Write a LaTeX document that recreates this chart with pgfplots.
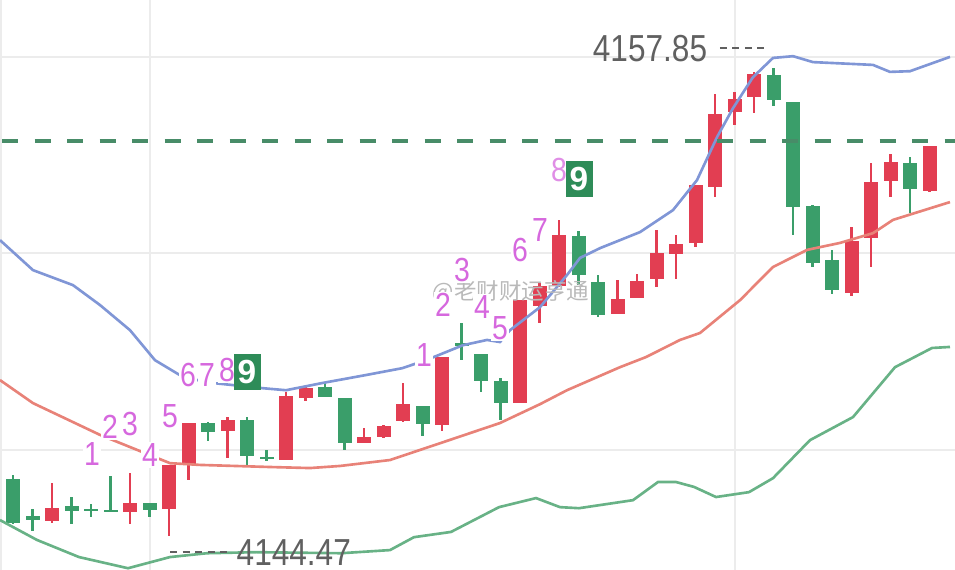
\documentclass[border=0pt]{standalone}
\usepackage{pgfplots}
\pgfplotsset{compat=1.18}
\usepackage{pgfplotstable}
\usepackage{graphicx}
\usepackage{fontspec}
\setmainfont{Liberation Sans}
\newfontfamily\cjk{Noto Sans CJK SC}

\definecolor{cred}{RGB}{226,62,82}
\definecolor{cgreen}{RGB}{58,158,106}
\definecolor{cblue}{RGB}{128,150,214}
\definecolor{csalmon}{RGB}{232,130,120}
\definecolor{clgreen}{RGB}{104,178,134}
\definecolor{cdash}{RGB}{72,140,104}
\definecolor{cpurple}{RGB}{214,104,222}
\definecolor{cbox}{RGB}{46,140,88}
\definecolor{gridc}{RGB}{236,236,236}
\definecolor{ctext}{RGB}{96,96,96}

% up candles (red): index open high low close
\pgfplotstableread{
i o h l c
2 4144.87 4145.96 4144.84 4145.24
6 4145.16 4146.25 4144.81 4145.39
8 4145.22 4146.48 4144.47 4146.48
9 4146.48 4147.68 4146.05 4147.68
11 4147.45 4147.85 4146.68 4147.77
14 4146.65 4148.57 4146.65 4148.48
15 4148.42 4148.71 4148.31 4148.68
18 4147.11 4147.56 4147.11 4147.28
19 4147.28 4147.62 4147.25 4147.59
20 4147.74 4148.83 4147.71 4148.22
22 4147.62 4149.57 4147.45 4149.57
26 4148.25 4151.20 4148.25 4151.20
27 4151.03 4151.69 4150.57 4151.63
28 4151.60 4153.50 4151.60 4153.07
31 4150.83 4151.80 4150.83 4151.26
32 4151.26 4151.95 4151.26 4151.75
33 4151.83 4153.21 4151.58 4152.55
34 4152.52 4153.07 4151.83 4152.81
35 4152.84 4154.50 4152.72 4154.50
36 4154.47 4157.10 4154.15 4156.56
37 4156.59 4157.16 4156.22 4156.96
38 4157.02 4157.74 4156.56 4157.68
43 4151.43 4153.32 4151.32 4152.92
44 4152.98 4155.13 4152.15 4154.58
45 4154.61 4155.39 4154.15 4155.16
47 4154.33 4155.62 4154.30 4155.62
}\up

% down candles (green)
\pgfplotstableread{
i o h l c
0 4146.10 4146.19 4144.79 4144.84
1 4145.04 4145.24 4144.61 4144.90
3 4145.30 4145.56 4144.79 4145.16
4 4145.24 4145.36 4144.99 4145.19
5 4145.19 4146.16 4145.13 4145.16
7 4145.39 4145.39 4145.01 4145.19
10 4147.68 4147.71 4147.16 4147.42
12 4147.77 4147.85 4146.48 4146.73
13 4146.70 4146.91 4146.59 4146.65
16 4148.71 4148.83 4148.42 4148.42
17 4148.40 4148.40 4146.91 4147.11
21 4148.17 4148.17 4147.31 4147.65
23 4149.97 4150.54 4149.48 4149.91
24 4149.66 4149.66 4148.57 4148.88
25 4148.88 4148.97 4147.77 4148.25
29 4153.04 4153.18 4151.63 4151.95
30 4151.72 4151.95 4150.72 4150.77
39 4157.65 4157.85 4156.76 4156.93
40 4156.88 4156.88 4153.07 4153.87
41 4153.92 4153.92 4152.15 4152.29
42 4152.35 4152.64 4151.38 4151.49
46 4155.13 4155.30 4153.72 4154.38
}\down

\newcommand{\pl}[1]{\scalebox{0.85}[1]{#1}}

\begin{document}
\begin{tikzpicture}
\begin{axis}[
  name=ax,
  width=9.55cm, height=5.7cm, scale only axis,
  xmin=-0.667, xmax=48.308, ymin=4143.47, ymax=4159.80,
  axis line style={draw=none},
  xtick={-0.615,7.026,37.026}, ytick={4146.91,4152.55,4158.17},
  xticklabels={}, yticklabels={}, major tick length=0pt,
  grid=major, grid style={color=gridc, line width=0.45pt},
  clip=true,
  wick/.style={draw=none, mark=none, error bars/.cd, y dir=both, y explicit, error mark=none,
     error bar style={line width=0.025cm, draw=#1, solid}},
  body/.style={draw=none, mark=none, error bars/.cd, y dir=both, y explicit, error mark=none,
     error bar style={line width=0.14cm, draw=#1, solid}},
]
% wicks
\addplot[wick=cred] table[x=i, y expr=(\thisrow{h}+\thisrow{l})/2, y error expr=(\thisrow{h}-\thisrow{l})/2] {\up};
\addplot[wick=cgreen] table[x=i, y expr=(\thisrow{h}+\thisrow{l})/2, y error expr=(\thisrow{h}-\thisrow{l})/2] {\down};
% bodies
\addplot[body=cred] table[x=i, y expr=(\thisrow{o}+\thisrow{c})/2, y error expr={max(abs(\thisrow{o}-\thisrow{c})/2,0.03)}] {\up};
\addplot[body=cgreen] table[x=i, y expr=(\thisrow{o}+\thisrow{c})/2, y error expr={max(abs(\thisrow{o}-\thisrow{c})/2,0.03)}] {\down};

% upper band
\addplot[cblue, line width=0.75pt, mark=none] coordinates {
(-0.667,4152.92) (1.026,4152.06) (3.077,4151.63) (4.462,4151.06) (6.0,4150.34) (7.282,4149.48) (8.564,4149.05) (9.846,4148.85) (12.769,4148.68) (14.0,4148.62) (15.897,4148.83) (18.051,4149.05) (19.949,4149.25) (21.179,4149.48) (23.077,4149.91) (24.308,4150.06) (24.974,4150.00) (25.487,4150.34) (27.026,4151.00) (28.410,4151.92) (29.077,4152.41) (30.103,4152.69) (32.154,4153.15) (33.846,4153.78) (35.077,4154.64) (36.103,4155.87) (36.923,4156.70) (37.949,4157.59) (38.974,4158.14) (40.0,4158.19) (41.026,4158.02) (44.103,4157.94) (44.974,4157.74) (46.0,4157.76) (48.051,4158.17)};
% middle band
\addplot[csalmon, line width=0.75pt, mark=none] coordinates {
(-0.667,4148.91) (1.026,4148.25) (4.462,4147.34) (7.026,4146.76) (8.051,4146.53) (9.590,4146.48) (13.179,4146.42) (15.231,4146.39) (16.769,4146.45) (19.333,4146.62) (22.051,4147.13) (24.974,4147.68) (27.026,4148.22) (28.410,4148.62) (31.128,4149.28) (32.462,4149.57) (34.205,4150.06) (35.231,4150.26) (37.282,4151.20) (38.974,4152.15) (40.718,4152.64) (42.410,4152.84) (44.103,4153.12) (45.128,4153.50) (48.051,4154.01)};
% lower band
\addplot[clgreen, line width=0.75pt, mark=none] coordinates {
(-0.667,4144.90) (1.231,4144.33) (3.385,4143.84) (5.897,4143.52) (8.051,4143.84) (9.949,4143.95) (12.462,4143.98) (16.821,4143.95) (19.333,4144.04) (20.564,4144.41) (22.462,4144.56) (24.923,4145.27) (26.821,4145.53) (28.051,4145.27) (29.026,4145.24) (31.795,4145.47) (33.077,4145.99) (34.0,4145.99) (34.923,4145.85) (36.051,4145.56) (37.744,4145.70) (38.974,4146.10) (40.872,4147.19) (43.077,4147.85) (45.231,4149.28) (47.128,4149.83) (48.051,4149.86)};

% green dashed level
\addplot[cdash, line width=1pt, dash pattern=on 0.16cm off 0.165cm, mark=none] coordinates {(-0.56,4155.76) (48.308,4155.76)};

% max / min markers
\draw[ctext, line width=0.7pt, dash pattern=on 0.07cm off 0.055cm] (axis cs:36.256,4158.42) -- (axis cs:38.718,4158.42);
\draw[ctext, line width=0.7pt, dash pattern=on 0.07cm off 0.055cm] (axis cs:8.051,4143.98) -- (axis cs:11.231,4143.98);
\node[text=ctext, font=\fontsize{10.7}{12}\selectfont, inner sep=0pt] at (axis cs:32.667,4158.42) {\scalebox{0.84}[1]{4157.85}};
\node[text=ctext, font=\fontsize{10.7}{12}\selectfont, inner sep=0pt, anchor=west] at (axis cs:11.436,4143.98) {\scalebox{0.84}[1]{4144.47}};

% watermark
\node[text=gray!55, font=\cjk\fontsize{6.4}{7}\selectfont, anchor=west, inner sep=0pt] at (axis cs:21.49,4151.45) {@老财财运亨通};

% TD sequence labels
\tikzset{td/.style={text=cpurple, fill=white, inner sep=0.4pt, font=\fontsize{9.5}{10}\selectfont},
         tdbox/.style={fill=cbox, text=white, inner sep=0pt, minimum width=0.27cm, minimum height=0.36cm, font=\bfseries\fontsize{9.5}{10}\selectfont}}
\node[td] at (axis cs:4.051,4146.79) {\pl{1}};
\node[td] at (axis cs:4.974,4147.56) {\pl{2}};
\node[td] at (axis cs:6.0,4147.65) {\pl{3}};
\node[td] at (axis cs:7.026,4146.76) {\pl{4}};
\node[td] at (axis cs:8.051,4147.88) {\pl{5}};
\node[td] at (axis cs:8.974,4149.05) {\pl{6}};
\node[td] at (axis cs:9.949,4149.05) {\pl{7}};
\node[td] at (axis cs:10.974,4149.20) {\pl{8}};
\node[tdbox] at (axis cs:12.0,4149.14) {9};
\node[td] at (axis cs:21.077,4149.63) {\pl{1}};
\node[td] at (axis cs:22.051,4151.06) {\pl{2}};
\node[td] at (axis cs:23.026,4152.06) {\pl{3}};
\node[td] at (axis cs:24.051,4151.00) {\pl{4}};
\node[td] at (axis cs:24.974,4150.40) {\pl{5}};
\node[td] at (axis cs:26.0,4152.64) {\pl{6}};
\node[td] at (axis cs:27.026,4153.21) {\pl{7}};
\node[td, text=cpurple!75] at (axis cs:28.0,4154.93) {\pl{8}};
\node[tdbox] at (axis cs:29.026,4154.67) {9};
\end{axis}
\pgfresetboundingbox
\path[use as bounding box] (ax.south west) rectangle (ax.north east);
\end{tikzpicture}
\end{document}
